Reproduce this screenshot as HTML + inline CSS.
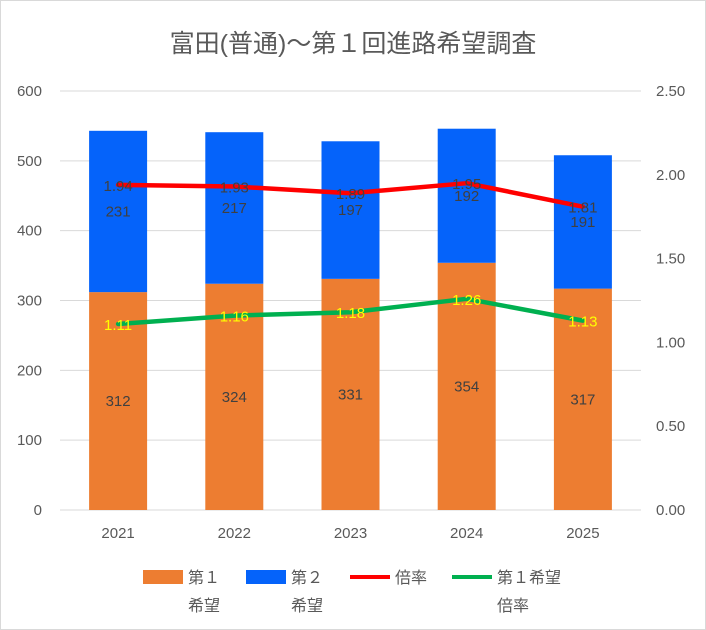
<!DOCTYPE html>
<html><head><meta charset="utf-8">
<style>
body{margin:0;background:#fff;}
svg{display:block;font-family:"Liberation Sans","Noto Sans CJK JP",sans-serif;}
</style></head>
<body>
<svg id="chart" width="706" height="630">
<rect x="0.5" y="0.5" width="705" height="629" fill="#fff" stroke="#d9d9d9"/>
<text x="353" y="52" text-anchor="middle" font-size="25" fill="#595959">富田(普通)～第１回進路希望調査</text>
<g id="grid"></g><g id="bars"></g><g id="lines"></g><g id="labels"></g>
<g font-size="16" fill="#595959">
<rect x="143" y="570" width="40" height="14" fill="#ed7d31"/>
<text x="188" y="583">第１</text>
<text x="188" y="611">希望</text>
<rect x="246" y="570" width="40" height="14" fill="#0563fa"/>
<text x="291" y="583">第２</text>
<text x="291" y="611">希望</text>
<line x1="350" y1="577" x2="390" y2="577" stroke="#ff0000" stroke-width="4"/>
<text x="395" y="583">倍率</text>
<line x1="452" y1="577" x2="492" y2="577" stroke="#00b050" stroke-width="4"/>
<text x="497" y="583">第１希望</text>
<text x="497" y="611">倍率</text>
</g>
</svg>
<script>
const categories=["2021","2022","2023","2024","2025"];
const firstChoice=[312,324,331,354,317];
const secondChoice=[231,217,197,192,191];
const ratio=[1.94,1.93,1.89,1.95,1.81];
const firstRatio=[1.11,1.16,1.18,1.26,1.13];
const leftTicks=[0,100,200,300,400,500,600];
const rightTicks=["0.00","0.50","1.00","1.50","2.00","2.50"];

const NS="http://www.w3.org/2000/svg";
const x0=60,x1=641,yB=510,yT=91;
const yL=v=>yB-(v/600)*(yB-yT);
const yR=v=>yB-(v/2.5)*(yB-yT);
const step=(x1-x0)/categories.length;
const xC=i=>x0+step*(i+0.5);
const bw=58;
function mk(tag,attrs,parent,txt){const e=document.createElementNS(NS,tag);for(const k in attrs)e.setAttribute(k,attrs[k]);if(txt!==undefined)e.textContent=txt;document.getElementById(parent).appendChild(e);return e;}

leftTicks.forEach(t=>{
  const g=mk('line',{x1:x0,x2:x1,y1:yL(t),y2:yL(t),stroke:'#d9d9d9','stroke-width':1},'grid');
  
  
  const l=mk('text',{x:42,y:yL(t)+5,'text-anchor':'end','font-size':15,fill:'#595959'},'grid',t);
  
  
});
rightTicks.forEach(t=>{
  const l=mk('text',{x:656,y:yR(+t)+5,'font-size':15,fill:'#595959'},'grid',t);
  
  
});
categories.forEach((c,i)=>{
  const l=mk('text',{x:xC(i),y:538,'text-anchor':'middle','font-size':15,fill:'#595959'},'grid',c);
  
  
  const a=mk('rect',{x:xC(i)-bw/2,y:yL(firstChoice[i]),width:bw,height:yB-yL(firstChoice[i]),fill:'#ed7d31'},'bars');
  
  
  const tot=firstChoice[i]+secondChoice[i];
  const b=mk('rect',{x:xC(i)-bw/2,y:yL(tot),width:bw,height:yL(firstChoice[i])-yL(tot),fill:'#0563fa'},'bars');
  
  
  const la=mk('text',{x:xC(i),y:(yL(firstChoice[i])+yB)/2+5,'text-anchor':'middle','font-size':15,fill:'#404040'},'labels',firstChoice[i]);
  
  
  const lb=mk('text',{x:xC(i),y:(yL(firstChoice[i])+yL(tot))/2+5,'text-anchor':'middle','font-size':15,fill:'#404040'},'labels',secondChoice[i]);
  
  
  const lr=mk('text',{x:xC(i),y:yR(ratio[i])+6,'text-anchor':'middle','font-size':15,fill:'#404040'},'labels',ratio[i].toFixed(2));
  
  
  const lf=mk('text',{x:xC(i),y:yR(firstRatio[i])+6,'text-anchor':'middle','font-size':15,fill:'#ffff00'},'labels',firstRatio[i].toFixed(2));
  
  
});
const pr=mk('polyline',{points:ratio.map((v,i)=>xC(i)+','+yR(v)).join(' '),fill:'none',stroke:'#ff0000','stroke-width':4.5,'stroke-linejoin':'round','stroke-linecap':'round'},'lines');


const pf=mk('polyline',{points:firstRatio.map((v,i)=>xC(i)+','+yR(v)).join(' '),fill:'none',stroke:'#00b050','stroke-width':4.5,'stroke-linejoin':'round','stroke-linecap':'round'},'lines');


</script>
</body></html>
